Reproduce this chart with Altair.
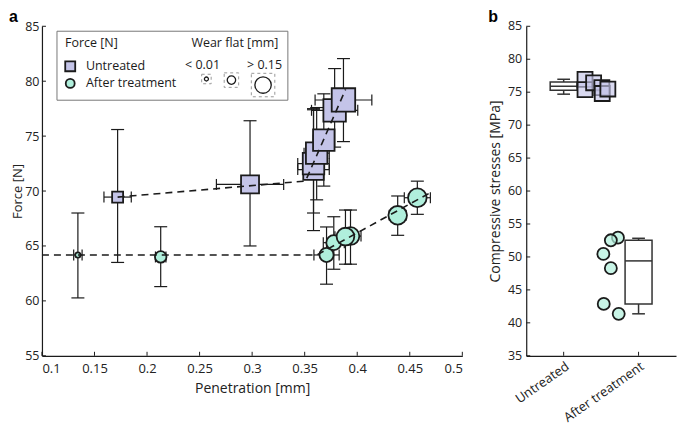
import altair as alt
import pandas as pd

# ---------------- Panel a data ----------------
# Untreated
u_pen = [0.172, 0.298, 0.3584, 0.3584, 0.3614, 0.3682, 0.3785, 0.3869]
u_force = [69.45, 70.6, 71.95, 72.5, 73.45, 74.64, 77.35, 78.29]
u_pen_err = [0.013, 0.032, 0.015, 0.015, 0.012, 0.010, 0.022, 0.027]
u_force_lo = [63.5, 65.0, 66.4, 68.0, 69.2, 70.45, 74.0, 74.5]
u_force_hi = [75.6, 76.4, 77.4, 77.5, 77.6, 78.85, 81.15, 82.06]
u_wear = [0.075, 0.145, 0.17, 0.18, 0.18, 0.18, 0.19, 0.2]

# After treatment
t_pen = [0.1342, 0.213, 0.3708, 0.3777, 0.3936, 0.3888, 0.4385, 0.4572]
t_force = [64.18, 64.0, 64.18, 65.3, 65.9, 65.85, 67.79, 69.39]
t_pen_err = [0.004, 0.005, 0.012, 0.010, 0.010, 0.010, 0.008, 0.0124]
t_force_lo = [60.27, 61.3, 61.52, 62.88, 63.34, 63.34, 65.97, 67.88]
t_force_hi = [68.0, 66.75, 66.73, 67.66, 68.27, 68.27, 69.55, 70.9]
t_wear = [0.025, 0.095, 0.125, 0.135, 0.165, 0.165, 0.175, 0.175]

# dashed trend lines
u_line_pen = [0.172, 0.3508, 0.3889]
u_line_force = [69.45, 70.91, 79.25]
t_line_pen = [0.1, 0.3616, 0.4696]
t_line_force = [64.18, 64.18, 69.85]

# legend size examples (wear flat, mm)
legend_wear = [0.01, 0.06, 0.15]

x_ticks = [0.1, 0.15, 0.2, 0.25, 0.3, 0.35, 0.4, 0.45, 0.5]
y_ticks = [55, 60, 65, 70, 75, 80, 85]

# ---------------- Panel b data ----------------
categories = ["Untreated", "After treatment"]
cat_pos = [1, 3]
u_stress = [76.94, 75.38, 76.43, 75.68, 74.8, 75.48]
u_jitter = [1.57, 1.57, 1.80, 2.02, 2.03, 2.18]
t_stress = [52.93, 52.53, 50.46, 48.3, 42.87, 41.37]
t_jitter = [2.45, 2.26, 2.06, 2.26, 2.07, 2.47]
box_low = [74.7, 41.37]
box_q1 = [75.3, 42.87]
box_med = [75.9, 49.4]
box_q3 = [76.55, 52.53]
box_high = [76.96, 52.83]
b_y_ticks = [35, 40, 45, 50, 55, 60, 65, 70, 75, 80, 85]

# ---------------- styles ----------------
FONT = "Open Sans"
INK = "#1b1b1b"
LAV = "#c4c4e8"
MINT = "#b0efdc"
W1, H = 421, 330
W2 = 150

xs = alt.Scale(domain=[0.1, 0.5], nice=False, zero=False)
ys = alt.Scale(domain=[55, 85], nice=False, zero=False)

def side_expr():
    return "3.5 + 100 * datum.wear"

def errbars(df):
    base = alt.Chart(df)
    vr = base.mark_rule(color=INK, strokeWidth=1.2).encode(
        x=alt.X("pen:Q", scale=xs), y=alt.Y("flo:Q", scale=ys), y2="fhi:Q")
    c1 = base.mark_tick(orient="horizontal", size=13, thickness=1.2, color=INK, opacity=1).encode(
        x=alt.X("pen:Q", scale=xs), y=alt.Y("flo:Q", scale=ys))
    c2 = base.mark_tick(orient="horizontal", size=13, thickness=1.2, color=INK, opacity=1).encode(
        x=alt.X("pen:Q", scale=xs), y=alt.Y("fhi:Q", scale=ys))
    xb = base.transform_calculate(plo="datum.pen - datum.perr", phi="datum.pen + datum.perr")
    hr = xb.mark_rule(color=INK, strokeWidth=1.2).encode(
        x=alt.X("plo:Q", scale=xs), x2="phi:Q", y=alt.Y("force:Q", scale=ys))
    c3 = xb.mark_tick(orient="vertical", size=11, thickness=1.2, color=INK, opacity=1).encode(
        x=alt.X("plo:Q", scale=xs), y=alt.Y("force:Q", scale=ys))
    c4 = xb.mark_tick(orient="vertical", size=11, thickness=1.2, color=INK, opacity=1).encode(
        x=alt.X("phi:Q", scale=xs), y=alt.Y("force:Q", scale=ys))
    return [vr, c1, c2, hr, c3, c4]

u_df = pd.DataFrame(dict(pen=u_pen, force=u_force, perr=u_pen_err,
                         flo=u_force_lo, fhi=u_force_hi, wear=u_wear))
t_df = pd.DataFrame(dict(pen=t_pen, force=t_force, perr=t_pen_err,
                         flo=t_force_lo, fhi=t_force_hi, wear=t_wear))

axis_base = alt.Chart(pd.DataFrame({"x": [0.1], "y": [55]})).mark_point(opacity=0).encode(
    x=alt.X("x:Q", scale=xs, title="Penetration [mm]",
            axis=alt.Axis(values=x_ticks, format="~g", labelPadding=7, titlePadding=6,
                          labelOverlap=False)),
    y=alt.Y("y:Q", scale=ys, title="Force [N]",
            axis=alt.Axis(values=y_ticks, labelPadding=3, titlePadding=0, titleFontSize=13,
                          labelFontSize=12.5, labelOverlap=False)),
)

xtick_layer = alt.Chart(pd.DataFrame({"t": x_ticks})).mark_rule(color=INK, strokeWidth=1).encode(
    x=alt.X("t:Q", scale=xs), y=alt.value(H), y2=alt.value(H - 4))
ytick_layer = alt.Chart(pd.DataFrame({"t": y_ticks})).mark_rule(color=INK, strokeWidth=1).encode(
    y=alt.Y("t:Q", scale=ys), x=alt.value(0), x2=alt.value(4))

u_pts = alt.Chart(u_df).transform_calculate(
    sz=f"pow({side_expr()}, 2)"
).mark_square(color=LAV, stroke=INK, strokeWidth=1.8, opacity=1).encode(
    x=alt.X("pen:Q", scale=xs), y=alt.Y("force:Q", scale=ys),
    size=alt.Size("sz:Q", scale=None, legend=None))

t_pts = alt.Chart(t_df).transform_calculate(
    sz=f"PI * pow({side_expr()}, 2) / 4"
).mark_circle(color=MINT, stroke=INK, strokeWidth=1.8, opacity=1).encode(
    x=alt.X("pen:Q", scale=xs), y=alt.Y("force:Q", scale=ys),
    size=alt.Size("sz:Q", scale=None, legend=None))

u_line = alt.Chart(pd.DataFrame({"pen": u_line_pen, "force": u_line_force, "o": [0, 1, 2]})).mark_line(
    color=INK, strokeDash=[7, 5], strokeWidth=1.6).encode(
    x=alt.X("pen:Q", scale=xs), y=alt.Y("force:Q", scale=ys), order="o:Q")
t_line = alt.Chart(pd.DataFrame({"pen": t_line_pen, "force": t_line_force, "o": [0, 1, 2]})).mark_line(
    color=INK, strokeDash=[7, 5], strokeWidth=1.6).encode(
    x=alt.X("pen:Q", scale=xs), y=alt.Y("force:Q", scale=ys), order="o:Q")

# ---- legend (drawn inside panel a, positioned in data space) ----
leg_box = alt.Chart(pd.DataFrame({"x": [0.1143], "x2": [0.334], "y": [78.27], "y2": [84.55]})).mark_rect(
    fill="white", stroke="#777", strokeWidth=1).encode(
    x=alt.X("x:Q", scale=xs), x2="x2:Q", y=alt.Y("y:Q", scale=ys), y2="y2:Q")
leg_txt_left = alt.Chart(pd.DataFrame({
    "t": ["Force [N]", "Wear flat [mm]", "Untreated", "After treatment"],
    "x": [0.1219, 0.2422, 0.1418, 0.1418],
    "y": [83.45, 83.45, 81.36, 79.8]})).mark_text(
    align="left", baseline="middle", font=FONT, fontSize=12.5, color=INK).encode(
    x=alt.X("x:Q", scale=xs), y=alt.Y("y:Q", scale=ys), text="t:N")
leg_txt_c = alt.Chart(pd.DataFrame({
    "t": ["< 0.01", "> 0.15"], "x": [0.2528, 0.3118], "y": [81.45, 81.45]})).mark_text(
    align="center", baseline="middle", font=FONT, fontSize=12.5, color=INK).encode(
    x=alt.X("x:Q", scale=xs), y=alt.Y("y:Q", scale=ys), text="t:N")
leg_sq = alt.Chart(pd.DataFrame({"x": [0.1269], "y": [81.36]})).mark_square(
    color=LAV, stroke=INK, strokeWidth=1.8, opacity=1, size=100).encode(
    x=alt.X("x:Q", scale=xs), y=alt.Y("y:Q", scale=ys))
leg_ci = alt.Chart(pd.DataFrame({"x": [0.1269], "y": [79.8]})).mark_circle(
    color=MINT, stroke=INK, strokeWidth=1.8, opacity=1, size=80).encode(
    x=alt.X("x:Q", scale=xs), y=alt.Y("y:Q", scale=ys))
leg_sz_df = pd.DataFrame({"wear": legend_wear, "x": [0.2565, 0.2803, 0.3104], "y": [80.2, 80.1, 79.65]})
leg_br = alt.Chart(leg_sz_df).transform_calculate(
    sz=f"pow({side_expr()} + 5, 2)").mark_square(
    filled=False, color="#999", strokeWidth=1, strokeDash=[3, 3], opacity=1).encode(
    x=alt.X("x:Q", scale=xs), y=alt.Y("y:Q", scale=ys), size=alt.Size("sz:Q", scale=None, legend=None))
leg_sz = alt.Chart(leg_sz_df).transform_calculate(
    sz=f"PI * pow({side_expr()}, 2) / 4").mark_circle(
    color="white", stroke=INK, strokeWidth=1.3, opacity=1).encode(
    x=alt.X("x:Q", scale=xs), y=alt.Y("y:Q", scale=ys), size=alt.Size("sz:Q", scale=None, legend=None))

def panel_letter(letter, dx):
    return alt.Chart(pd.DataFrame({"t": [letter]})).mark_text(
        align="left", baseline="alphabetic", font="Liberation Sans", fontSize=16,
        fontWeight="bold", color="black").encode(
        text="t:N", x=alt.value(dx), y=alt.value(-4))

panel_a = alt.layer(
    axis_base, xtick_layer, ytick_layer,
    *errbars(u_df), *errbars(t_df),
    u_pts, t_pts, u_line, t_line,
    leg_box, leg_txt_left, leg_txt_c, leg_sq, leg_ci, leg_br, leg_sz,
    panel_letter("a", -33),
).properties(width=W1, height=H)

# ---------------- Panel b ----------------
bx = alt.Scale(domain=[0, 4], nice=False, zero=False)
by = alt.Scale(domain=[35, 85], nice=False, zero=False)

label_expr = "datum.value == 1 ? '" + categories[0] + "' : '" + categories[1] + "'"

b_axis = alt.Chart(pd.DataFrame({"x": [0], "y": [35]})).mark_point(opacity=0).encode(
    x=alt.X("x:Q", scale=bx, title=None,
            axis=alt.Axis(values=cat_pos, labelExpr=label_expr, labelAngle=325, labelPadding=4,
                          labelOverlap=False)),
    y=alt.Y("y:Q", scale=by, title="Compressive stresses [MPa]",
            axis=alt.Axis(values=b_y_ticks, labels=False, labelPadding=0, titlePadding=24)),
)
b_ylab = alt.Chart(pd.DataFrame({"t": b_y_ticks})).mark_text(
    align="right", baseline="middle", font=FONT, fontSize=12.5, color="#222").encode(
    y=alt.Y("t:Q", scale=by), x=alt.value(-4), text="t:Q")
b_xt = alt.Chart(pd.DataFrame({"t": cat_pos})).mark_rule(color=INK).encode(
    x=alt.X("t:Q", scale=bx), y=alt.value(H), y2=alt.value(H - 4))
b_yt = alt.Chart(pd.DataFrame({"t": b_y_ticks})).mark_rule(color=INK).encode(
    y=alt.Y("t:Q", scale=by), x=alt.value(0), x2=alt.value(4))

box_df = pd.DataFrame(dict(pos=cat_pos, lo=box_low, q1=box_q1, med=box_med, q3=box_q3, hi=box_high))
box_c = alt.Chart(box_df).transform_calculate(
    l="datum.pos - 0.36", r="datum.pos + 0.36", cl="datum.pos - 0.17", cr="datum.pos + 0.17")
whisk = box_c.mark_rule(color="#333", strokeWidth=1.5).encode(
    x=alt.X("pos:Q", scale=bx), y=alt.Y("lo:Q", scale=by), y2="hi:Q")
cap_lo = box_c.mark_rule(color="#333", strokeWidth=1.5).encode(
    x=alt.X("cl:Q", scale=bx), x2="cr:Q", y=alt.Y("lo:Q", scale=by))
cap_hi = box_c.mark_rule(color="#333", strokeWidth=1.5).encode(
    x=alt.X("cl:Q", scale=bx), x2="cr:Q", y=alt.Y("hi:Q", scale=by))
box = box_c.mark_rect(fill="white", stroke="#333", strokeWidth=1.5).encode(
    x=alt.X("l:Q", scale=bx), x2="r:Q", y=alt.Y("q1:Q", scale=by), y2="q3:Q")
med = box_c.mark_rule(color="#333", strokeWidth=1.5).encode(
    x=alt.X("l:Q", scale=bx), x2="r:Q", y=alt.Y("med:Q", scale=by))

b_u = alt.Chart(pd.DataFrame({"x": u_jitter, "y": u_stress})).mark_square(
    color=LAV, fillOpacity=0.65, stroke=INK, strokeWidth=1.8, size=225, opacity=1).encode(
    x=alt.X("x:Q", scale=bx), y=alt.Y("y:Q", scale=by))
b_t = alt.Chart(pd.DataFrame({"x": t_jitter, "y": t_stress})).mark_circle(
    color=MINT, fillOpacity=0.7, stroke=INK, strokeWidth=1.8, size=145, opacity=1).encode(
    x=alt.X("x:Q", scale=bx), y=alt.Y("y:Q", scale=by))

panel_b = alt.layer(
    b_axis, b_ylab, b_xt, b_yt, whisk, cap_lo, cap_hi, box, med, b_u, b_t,
    panel_letter("b", -38),
).properties(width=W2, height=H)

chart = alt.hconcat(panel_a, panel_b, spacing=25).properties(
    padding={"left": 1, "top": 1, "right": 1, "bottom": 3}
).configure_view(
    stroke=None
).configure_axis(
    grid=False, ticks=False, tickSize=0, domainColor=INK, domainWidth=1.2,
    labelFont=FONT, titleFont=FONT, labelFontSize=13, titleFontSize=14,
    labelColor="#222", titleColor="#222", titleFontWeight="normal",
    labelOverlap=False,
)

chart.save("out.html", embed_options={"renderer": "svg", "actions": False})
